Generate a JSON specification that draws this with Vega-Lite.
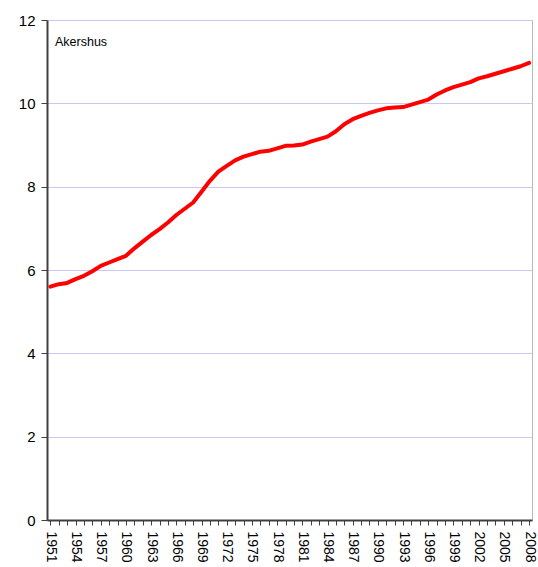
{
  "$schema": "https://vega.github.io/schema/vega-lite/v6.json",
  "width": 485,
  "height": 500,
  "autosize": {"type": "none"},
  "padding": {"left": 47, "top": 20, "right": 6, "bottom": 47},
  "background": "white",
  "config": {
    "view": {"stroke": "#b8b8b8", "strokeWidth": 1},
    "font": "Liberation Sans"
  },
  "layer": [
    {
      "data": {
        "values": [
          {"year": 1951, "value": 5.60}, {"year": 1952, "value": 5.66}, {"year": 1953, "value": 5.69},
          {"year": 1954, "value": 5.78}, {"year": 1955, "value": 5.86}, {"year": 1956, "value": 5.97},
          {"year": 1957, "value": 6.10}, {"year": 1958, "value": 6.18}, {"year": 1959, "value": 6.26},
          {"year": 1960, "value": 6.34}, {"year": 1961, "value": 6.52}, {"year": 1962, "value": 6.68},
          {"year": 1963, "value": 6.84}, {"year": 1964, "value": 6.98}, {"year": 1965, "value": 7.14},
          {"year": 1966, "value": 7.32}, {"year": 1967, "value": 7.47}, {"year": 1968, "value": 7.62},
          {"year": 1969, "value": 7.88}, {"year": 1970, "value": 8.14}, {"year": 1971, "value": 8.36},
          {"year": 1972, "value": 8.50}, {"year": 1973, "value": 8.63}, {"year": 1974, "value": 8.72},
          {"year": 1975, "value": 8.78}, {"year": 1976, "value": 8.84}, {"year": 1977, "value": 8.86},
          {"year": 1978, "value": 8.92}, {"year": 1979, "value": 8.98}, {"year": 1980, "value": 8.99},
          {"year": 1981, "value": 9.01}, {"year": 1982, "value": 9.08}, {"year": 1983, "value": 9.14},
          {"year": 1984, "value": 9.20}, {"year": 1985, "value": 9.33}, {"year": 1986, "value": 9.50},
          {"year": 1987, "value": 9.62}, {"year": 1988, "value": 9.70}, {"year": 1989, "value": 9.77},
          {"year": 1990, "value": 9.83}, {"year": 1991, "value": 9.88}, {"year": 1992, "value": 9.90},
          {"year": 1993, "value": 9.91}, {"year": 1994, "value": 9.97}, {"year": 1995, "value": 10.03},
          {"year": 1996, "value": 10.09}, {"year": 1997, "value": 10.21}, {"year": 1998, "value": 10.31},
          {"year": 1999, "value": 10.39}, {"year": 2000, "value": 10.45}, {"year": 2001, "value": 10.51},
          {"year": 2002, "value": 10.60}, {"year": 2003, "value": 10.65}, {"year": 2004, "value": 10.71},
          {"year": 2005, "value": 10.77}, {"year": 2006, "value": 10.83}, {"year": 2007, "value": 10.89},
          {"year": 2008, "value": 10.97}
        ]
      },
      "mark": {"type": "line", "color": "#ff0000", "strokeWidth": 4, "strokeJoin": "round", "strokeCap": "round"},
      "encoding": {
        "x": {
          "field": "year", "type": "quantitative",
          "scale": {"domain": [1950.6, 2008.35], "nice": false, "zero": false},
          "axis": {
            "title": null,
            "values": [1951,1952,1953,1954,1955,1956,1957,1958,1959,1960,1961,1962,1963,1964,1965,1966,1967,1968,1969,1970,1971,1972,1973,1974,1975,1976,1977,1978,1979,1980,1981,1982,1983,1984,1985,1986,1987,1988,1989,1990,1991,1992,1993,1994,1995,1996,1997,1998,1999,2000,2001,2002,2003,2004,2005,2006,2007,2008],
            "tickCount": 100,
            "format": "d",
            "labelExpr": "(datum.value - 1951) % 3 == 0 ? datum.label : ''",
            "labelAngle": 90,
            "labelAlign": "left",
            "labelBaseline": "middle",
            "labelFontSize": 14,
            "labelColor": "#000000",
            "labelPadding": 6,
            "labelOverlap": false,
            "labelFlush": false,
            "labelBound": false,
            "grid": false,
            "domainColor": "#404040",
            "domainWidth": 2,
            "tickColor": "#404040",
            "tickSize": 5,
            "tickWidth": 1
          }
        },
        "y": {
          "field": "value", "type": "quantitative",
          "scale": {"domain": [0, 12], "nice": false},
          "axis": {
            "title": null,
            "values": [0, 2, 4, 6, 8, 10, 12],
            "labelFontSize": 15,
            "labelColor": "#000000",
            "labelPadding": 6,
            "grid": true,
            "gridColor": "#c8c8f2",
            "gridWidth": 1,
            "domainColor": "#404040",
            "domainWidth": 2,
            "tickColor": "#404040",
            "tickSize": 6,
            "tickWidth": 1
          }
        }
      }
    },
    {
      "data": {"values": [{"label": "Akershus"}]},
      "mark": {"type": "text", "align": "left", "baseline": "alphabetic", "fontSize": 12.5, "color": "#000000", "font": "Liberation Sans"},
      "encoding": {
        "x": {"datum": 1951.55, "type": "quantitative"},
        "y": {"datum": 11.38, "type": "quantitative"},
        "text": {"field": "label", "type": "nominal"}
      }
    }
  ]
}
